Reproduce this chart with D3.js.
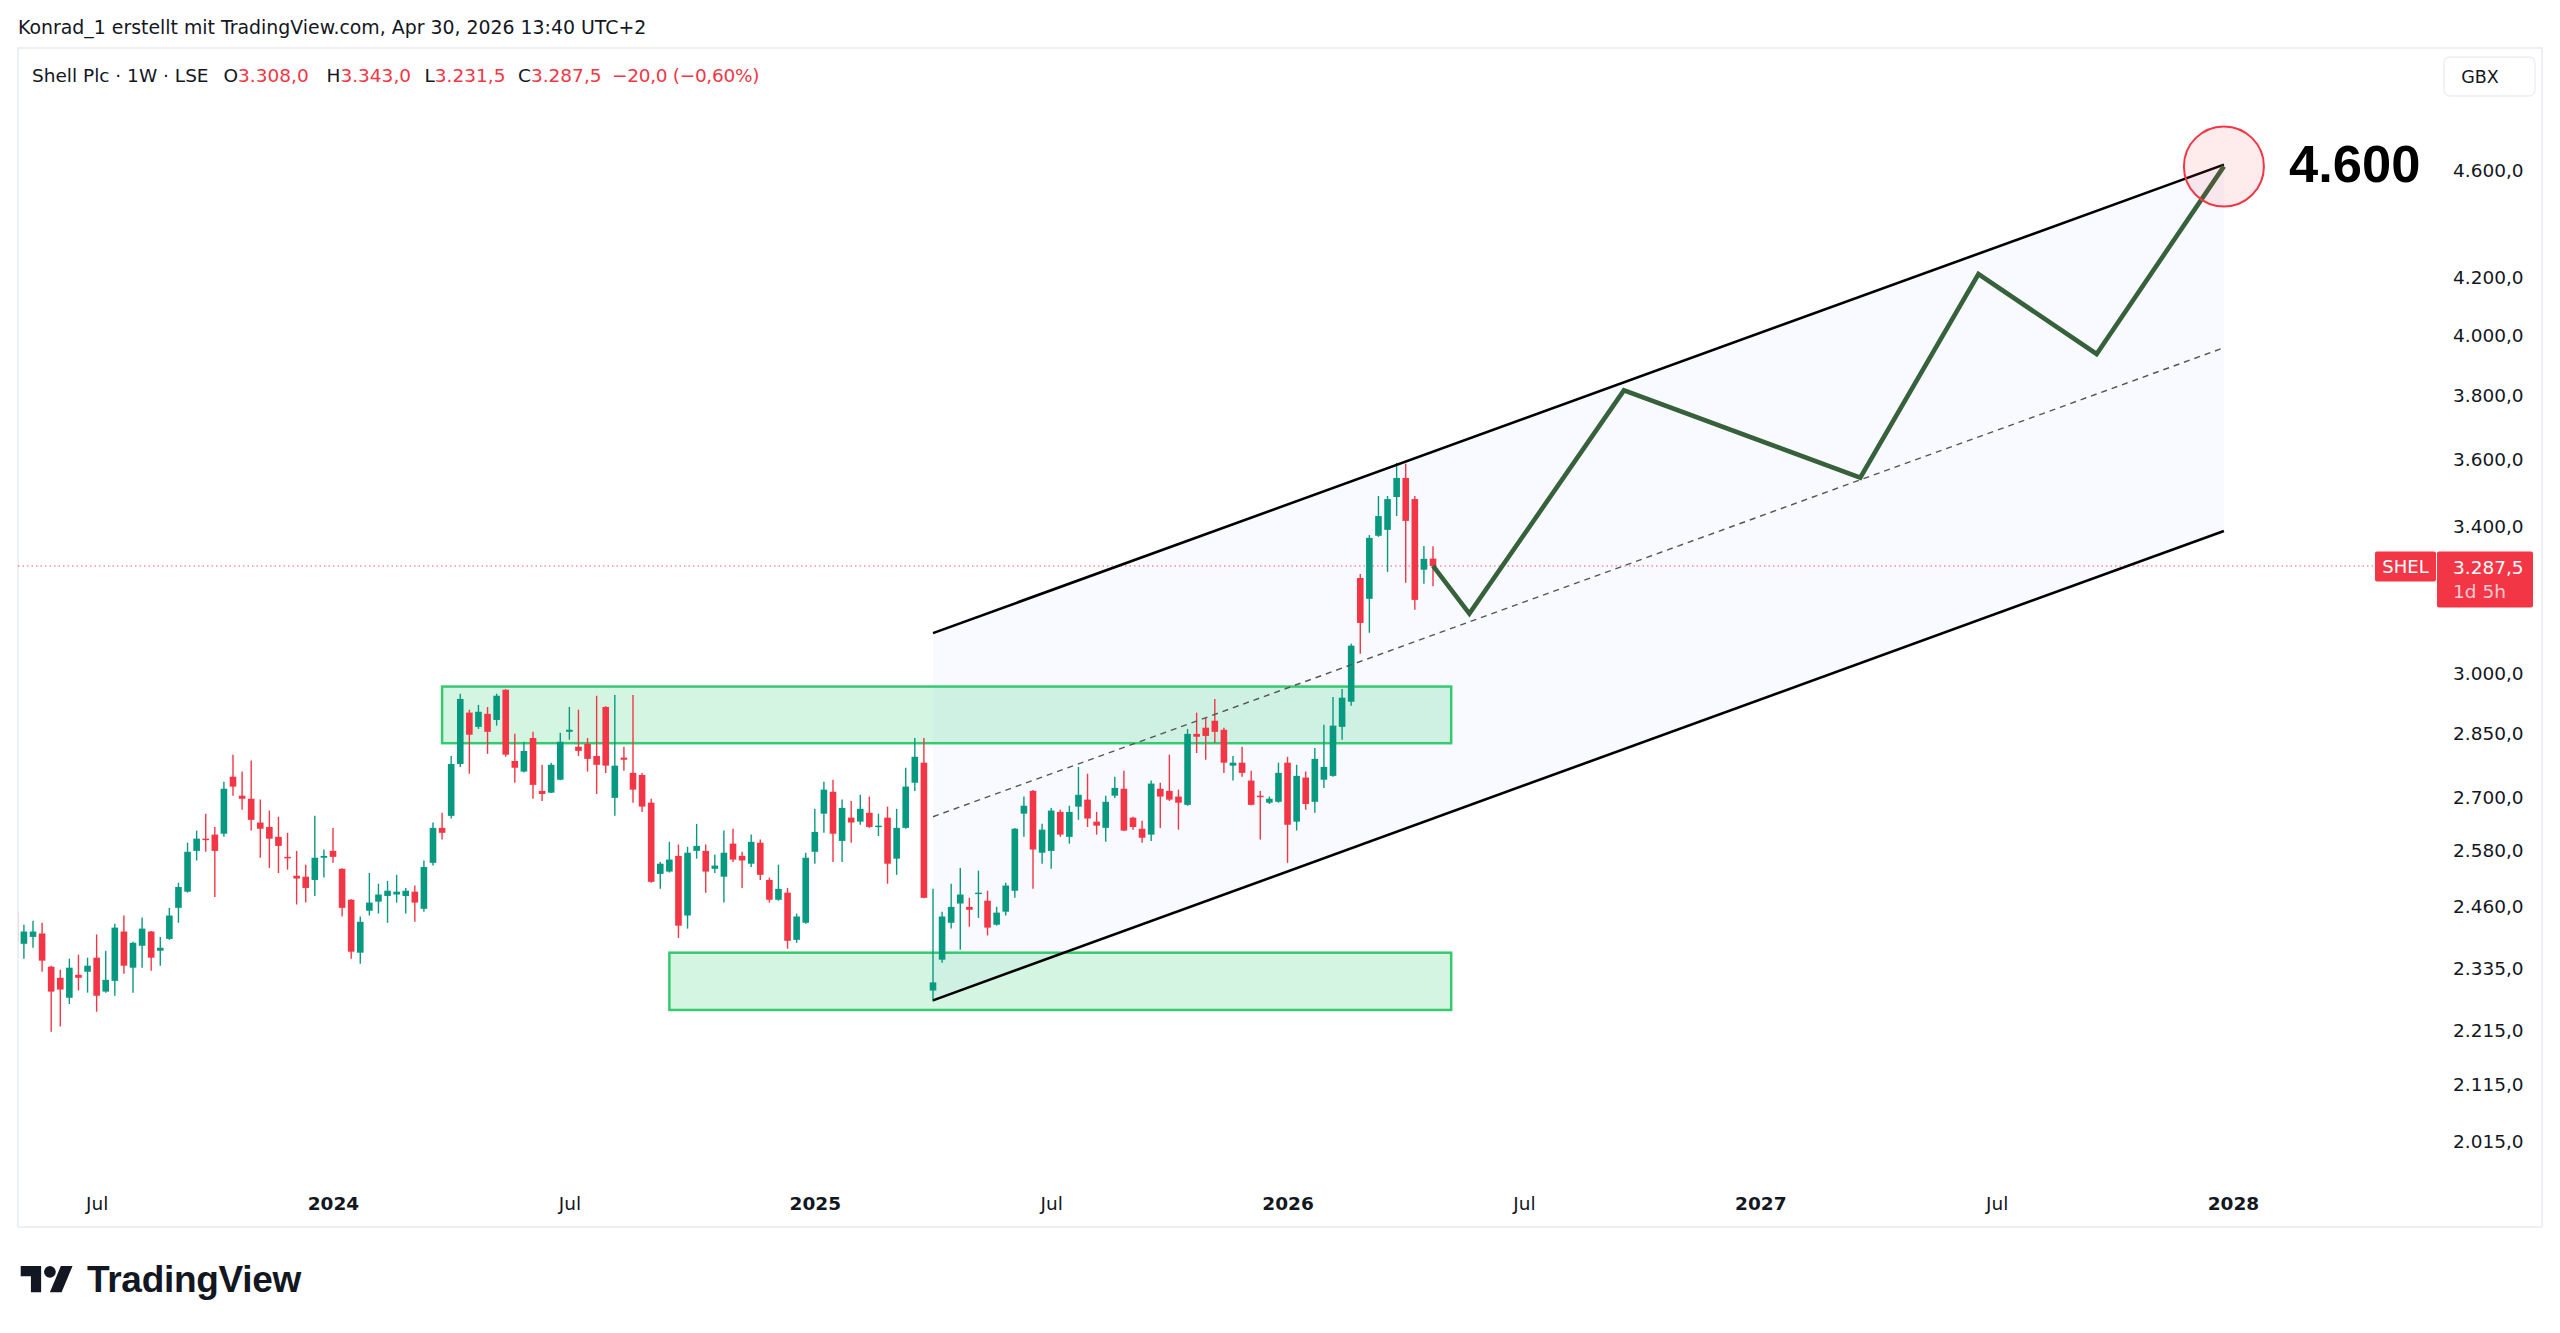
<!DOCTYPE html>
<html><head><meta charset="utf-8">
<script src="https://cdn.jsdelivr.net/npm/d3@7"></script>
<style>
html,body{margin:0;padding:0;background:#fff;}
svg{display:block;}
</style></head><body>
<svg id="chart" width="2560" height="1333"></svg>
<script>
// ---------- DATA ----------
const firstWeek = "2023-05-01";
const lastWeek = "2026-04-27";
const open = [2447,2384,2398,2405,2338,2316,2277,2322,2328,2356,
2289,2310,2409,2336,2380,2409,2370,2394,2458,2492,
2580,2607,2616,2618,2748,2704,2697,2643,2633,2611,
2567,2526,2524,2517,2565,2580,2541,2475,2366,2452,
2471,2483,2486,2483,2492,2456,2554,2631,2658,2778,
2902,2867,2899,2884,2959,2785,2760,2840,2715,2711,
2741,2855,2819,2826,2797,2916,2699,2793,2757,2752,
2688,2530,2535,2569,2442,2580,2580,2541,2524,2596,
2569,2552,2598,2517,2475,2490,2392,2427,2578,2663,
2713,2602,2654,2645,2665,2633,2654,2563,2631,2734,
2781,2291,2352,2427,2467,2460,2488,2473,2423,2450,
2494,2663,2715,2576,2580,2667,2611,2679,2695,2645,
2631,2704,2720,2654,2629,2616,2720,2715,2702,2683,
2850,2865,2882,2860,2774,2781,2739,2704,2688,2690,
2781,2645,2746,2690,2741,2750,2867,2929,3254,3197,
3373,3390,3486,3543,3480,3277,3308];
const high = [2458,2423,2431,2427,2340,2332,2354,2362,2356,2403,
2370,2425,2442,2388,2438,2410,2398,2458,2511,2598,
2625,2663,2633,2736,2800,2760,2786,2695,2670,2656,
2620,2580,2550,2658,2583,2631,2542,2476,2440,2532,
2509,2515,2528,2500,2505,2559,2643,2665,2797,2949,
2909,2921,2916,2949,2960,2850,2831,2855,2776,2781,
2853,2916,2909,2840,2944,2918,2946,2819,2946,2757,
2697,2556,2600,2594,2589,2640,2594,2572,2625,2629,
2578,2616,2605,2522,2550,2500,2446,2576,2674,2736,
2741,2695,2692,2706,2702,2663,2679,2674,2769,2840,
2840,2498,2450,2509,2543,2479,2537,2494,2460,2511,
2631,2702,2717,2640,2676,2672,2681,2771,2755,2667,
2704,2748,2762,2656,2647,2739,2734,2800,2718,2862,
2902,2889,2936,2865,2797,2819,2762,2715,2702,2781,
2795,2776,2760,2816,2872,2941,2961,3077,3265,3375,
3489,3489,3589,3586,3489,3344,3343];
const low = [2375,2354,2376,2328,2212,2222,2265,2291,2287,2250,
2287,2281,2324,2287,2336,2330,2340,2392,2427,2490,
2559,2578,2481,2611,2704,2672,2625,2565,2543,2532,
2539,2465,2469,2483,2522,2554,2440,2354,2344,2442,
2446,2427,2469,2446,2429,2450,2548,2605,2652,2771,
2755,2862,2802,2870,2795,2734,2758,2697,2692,2710,
2740,2836,2797,2760,2708,2757,2658,2762,2688,2667,
2511,2498,2533,2396,2415,2563,2490,2532,2469,2556,
2500,2545,2517,2469,2473,2374,2386,2425,2552,2620,
2556,2556,2598,2638,2631,2613,2509,2528,2629,2715,
2478,2270,2346,2415,2372,2419,2437,2401,2421,2442,
2479,2611,2498,2552,2541,2611,2596,2649,2633,2616,
2600,2699,2624,2627,2598,2602,2631,2692,2627,2681,
2804,2788,2828,2757,2739,2748,2682,2605,2685,2688,
2554,2625,2672,2665,2722,2748,2836,2919,3051,3106,
3370,3271,3430,3241,3167,3238,3231.5];
const close = [2388,2409,2409,2350,2289,2293,2336,2316,2340,2281,
2312,2417,2340,2386,2415,2356,2376,2442,2502,2578,
2607,2605,2580,2720,2725,2697,2649,2629,2607,2591,
2565,2520,2500,2565,2569,2567,2458,2368,2429,2469,
2486,2494,2492,2494,2469,2545,2631,2620,2778,2936,
2848,2904,2855,2944,2800,2769,2809,2729,2708,2776,
2831,2860,2809,2790,2776,2774,2774,2788,2718,2679,
2513,2552,2561,2421,2576,2591,2535,2548,2576,2561,
2559,2600,2528,2475,2498,2390,2440,2565,2622,2718,
2618,2676,2643,2674,2633,2636,2552,2631,2725,2795,
2479,2307,2440,2460,2486,2454,2490,2417,2448,2505,
2629,2681,2583,2627,2670,2616,2667,2706,2652,2636,
2690,2722,2625,2633,2609,2732,2702,2695,2688,2850,
2843,2845,2855,2781,2781,2757,2683,2702,2697,2757,
2638,2750,2685,2790,2771,2870,2939,3072,3132,3367,
3430,3480,3543,3416,3194,3307.5,3287.5];

const priceTicks = [4600,4200,4000,3800,3600,3400,3000,2850,2700,2580,2460,2335,2215,2115,2015];
const timeTickDates = ["2023-07-03","2024-01-01","2024-07-01","2025-01-06","2025-07-07","2026-01-05","2026-07-06","2027-01-04","2027-07-05","2028-01-03"];
const timeTickLabels = ["Jul","2024","Jul","2025","Jul","2026","Jul","2027","Jul","2028"];

// drawings
const zoneStart = ["2024-03-25","2024-09-16"];
const zoneEnd = ["2026-05-11","2026-05-11"];
const zoneTop = [2967,2366];
const zoneBottom = [2827.5,2253.5];
const channelDates = ["2025-04-07","2027-12-27"];
const channelLower = [2272,3387];
const channelUpper = [3105,4625];
const forecastDates = ["2026-04-27","2026-05-25","2026-09-21","2027-03-22","2027-06-21","2027-09-20","2027-12-27"];
const forecastPrices = [3287.5,3157,3817,3544,4214,3937,4618];
const targetPrice = 4600;

// ---------- SETUP ----------
const svg = d3.select("#chart");
const parse = d3.utcParse("%Y-%m-%d");
const dates = d3.utcMonday.range(parse(firstWeek), d3.utcWeek.offset(parse(lastWeek), 1));
const candles = dates.map((d,i)=>({date:d,o:open[i],h:high[i],l:low[i],c:close[i]}));

const paneL=18, paneR=2437, paneT=48, paneB=1168;
const x = d3.scaleUtc().domain([parse("2024-01-01"), parse("2028-01-03")]).range([333, 2233]);
const y = d3.scaleLog().domain([2015, 4600]).range([1141.5, 171]);

const de = d3.formatLocale({decimal:",", thousands:".", grouping:[3], currency:["",""]});
const fmt1 = de.format(",.1f");
const fmt0 = de.format(",.0f");
const fmt2 = de.format(".2f");

const UP="#089981", DOWN="#f23645";
const FONT='"DejaVu Sans", Verdana, sans-serif';

svg.append("rect").attr("width",2560).attr("height",1333).attr("fill","#fff");
// frame
svg.append("rect").attr("x",18).attr("y",48).attr("width",2524).attr("height",1179)
  .attr("fill","none").attr("stroke","#e8ebf0").attr("stroke-width",1.5);

svg.append("clipPath").attr("id","pane").append("rect")
  .attr("x",paneL).attr("y",paneT).attr("width",paneR-paneL).attr("height",paneB-paneT);
const pane = svg.append("g").attr("clip-path","url(#pane)");

// channel fill
const cd = channelDates.map(parse);
const chPoly = [[cd[0],channelUpper[0]],[cd[1],channelUpper[1]],[cd[1],channelLower[1]],[cd[0],channelLower[0]]];
pane.append("path").attr("d", d3.line().x(p=>x(p[0])).y(p=>y(p[1]))(chPoly)+"Z")
  .attr("fill","rgba(41,98,255,0.03)");

// zones
zoneStart.forEach((s,i)=>{
  const x0=x(parse(s)), x1=x(parse(zoneEnd[i]));
  pane.append("rect").attr("x",x0).attr("y",y(zoneTop[i]))
    .attr("width",x1-x0).attr("height",y(zoneBottom[i])-y(zoneTop[i]))
    .attr("fill","rgba(46,204,113,0.2)").attr("stroke","#36c96f").attr("stroke-width",2.5);
});

// price line
const lastC = close[close.length-1];
pane.append("line").attr("x1",paneL).attr("x2",2375).attr("y1",y(lastC)).attr("y2",y(lastC))
  .attr("stroke",DOWN).attr("stroke-width",1).attr("stroke-dasharray","1.5,3").attr("opacity",0.8);

// candles
const cg = pane.append("g");
cg.selectAll("line.w").data(candles).join("line").attr("class","w")
  .attr("x1",d=>x(d.date)).attr("x2",d=>x(d.date))
  .attr("y1",d=>y(d.h)).attr("y2",d=>y(d.l))
  .attr("stroke",d=>d.c>=d.o?UP:DOWN).attr("stroke-width",1.4);
cg.selectAll("rect.b").data(candles).join("rect").attr("class","b")
  .attr("x",d=>x(d.date)-3.3).attr("width",6.6)
  .attr("y",d=>y(Math.max(d.o,d.c)))
  .attr("height",d=>Math.max(1.5, Math.abs(y(d.o)-y(d.c))))
  .attr("fill",d=>d.c>=d.o?UP:DOWN);

// channel lines
const lineDP = d3.line().x(p=>x(p[0])).y(p=>y(p[1]));
pane.append("path").attr("d",lineDP([[cd[0],channelUpper[0]],[cd[1],channelUpper[1]]]))
  .attr("stroke","#000").attr("stroke-width",2.6).attr("fill","none");
pane.append("path").attr("d",lineDP([[cd[0],channelLower[0]],[cd[1],channelLower[1]]]))
  .attr("stroke","#000").attr("stroke-width",2.6).attr("fill","none");
const mid = [Math.sqrt(channelUpper[0]*channelLower[0]), Math.sqrt(channelUpper[1]*channelLower[1])];
pane.append("path").attr("d",lineDP([[cd[0],mid[0]],[cd[1],mid[1]]]))
  .attr("stroke","#555").attr("stroke-width",1.4).attr("stroke-dasharray","6,5").attr("fill","none");

// forecast
pane.append("path").attr("d",lineDP(forecastDates.map((d,i)=>[parse(d),forecastPrices[i]])))
  .attr("stroke","#36613a").attr("stroke-width",4.6).attr("fill","none")
  .attr("stroke-linejoin","miter");

// target circle + label
const tx = x(parse(forecastDates[forecastDates.length-1])), ty = y(forecastPrices[forecastPrices.length-1]);
pane.append("circle").attr("cx",tx).attr("cy",ty).attr("r",40)
  .attr("fill","rgba(242,54,69,0.1)").attr("stroke","#f23645").attr("stroke-width",2);
pane.append("text").attr("x",2289).attr("y",y(targetPrice)+10.5)
  .attr("font-family",'"Liberation Sans", Arial, sans-serif').attr("font-weight","bold")
  .attr("font-size",52.5).attr("fill","#000").text(fmt0(targetPrice));

// price axis
const ya = svg.append("g").attr("transform","translate(2453,0)")
  .call(d3.axisRight(y).tickValues(priceTicks).tickFormat(fmt1).tickSize(0).tickPadding(0));
ya.select(".domain").remove();
ya.attr("font-family",FONT).attr("font-size",18.5);
ya.selectAll("text").attr("fill","#131722");

// GBX box
svg.append("rect").attr("x",2444).attr("y",57).attr("width",91).attr("height",39).attr("rx",6)
  .attr("fill","#fff").attr("stroke","#eceef2").attr("stroke-width",1.5);
svg.append("text").attr("x",2480).attr("y",83).attr("text-anchor","middle")
  .attr("font-family",FONT).attr("font-size",17.5).attr("fill","#131722").text("GBX");

// SHEL label
const ly = y(lastC);
svg.append("rect").attr("x",2375).attr("y",ly-14.5).attr("width",61).attr("height",30).attr("rx",2).attr("fill",DOWN);
svg.append("text").attr("x",2405.5).attr("y",ly+7).attr("text-anchor","middle")
  .attr("font-family",FONT).attr("font-size",18).attr("fill","#fff").text("SHEL");
svg.append("rect").attr("x",2437).attr("y",ly-14.5).attr("width",96).attr("height",56).attr("rx",2).attr("fill",DOWN);
svg.append("text").attr("x",2453).attr("y",ly+8.5)
  .attr("font-family",FONT).attr("font-size",18.5).attr("fill","#fff").text(fmt1(lastC));
svg.append("text").attr("x",2453).attr("y",ly+32)
  .attr("font-family",FONT).attr("font-size",18.5).attr("fill","#fff").attr("fill-opacity",0.75).text("1d 5h");

// time axis
const xa = svg.append("g").attr("transform","translate(0,1197)")
  .call(d3.axisBottom(x).tickValues(timeTickDates.map(parse))
    .tickFormat((d,i)=>timeTickLabels[i]).tickSize(0).tickPadding(0));
xa.select(".domain").remove();
xa.attr("font-family",FONT).attr("font-size",18.5);
xa.selectAll("text").attr("fill","#131722")
  .attr("font-weight",(d,i)=>timeTickLabels[i]==="Jul"?"normal":"bold");

// header
svg.append("text").attr("x",18).attr("y",34).attr("font-family",FONT).attr("font-size",18.9)
  .attr("fill","#131722").text("Konrad_1 erstellt mit TradingView.com, Apr 30, 2026 13:40 UTC+2");
const h2 = svg.append("g").attr("font-family",FONT).attr("font-size",18.5);
h2.append("text").attr("x",32).attr("y",82).attr("fill","#131722").text("Shell Plc · 1W · LSE");
const n = close.length-1;
const ohlc = [["O",open[n],223.5],["H",high[n],326.5],["L",low[n],424.5],["C",close[n],518]];
ohlc.forEach(([k,v,px])=>{
  const t = h2.append("text").attr("x",px).attr("y",82);
  t.append("tspan").attr("fill","#131722").text(k);
  t.append("tspan").attr("fill",DOWN).text(fmt1(v));
});
const chg = close[n]-close[n-1];
h2.append("text").attr("x",612).attr("y",82).attr("fill",DOWN).attr("letter-spacing",-0.3)
  .text(fmt1(chg)+" ("+fmt2(chg/close[n-1]*100)+"%)");

// logo
const logo = svg.append("g").attr("transform","translate(20.7,1260.2) scale(1.46)").attr("fill","#131722");
logo.append("path").attr("d","M14 22H7V11H0V4h14v18zM28 22h-8l7.5-18h8L28 22z");
logo.append("circle").attr("cx",20).attr("cy",8).attr("r",4);
svg.append("text").attr("x",87).attr("y",1292).attr("font-family",'"Liberation Sans", Arial, sans-serif')
  .attr("font-weight","bold").attr("font-size",37).attr("letter-spacing",-0.3).attr("fill","#131722").text("TradingView");
</script>
</body></html>
